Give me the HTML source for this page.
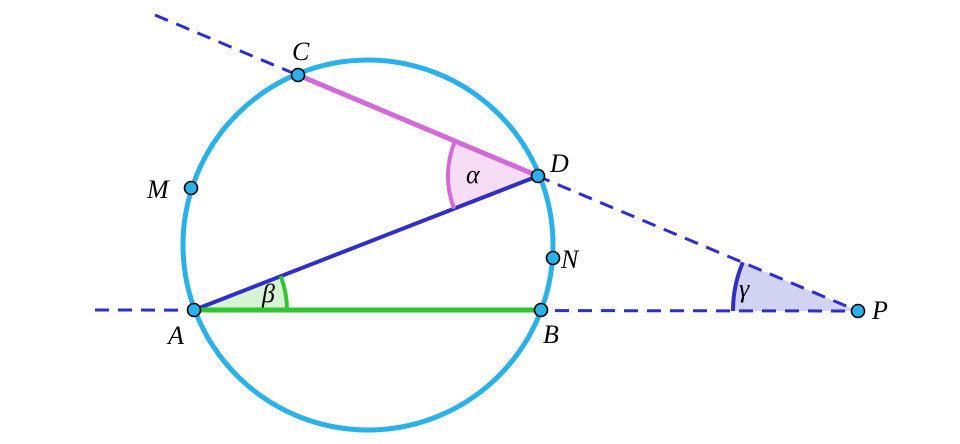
<!DOCTYPE html>
<html><head><meta charset="utf-8"><style>
html,body{margin:0;padding:0;background:#fff;}
svg{display:block}
text{font-family:"Liberation Serif",serif;font-style:italic;font-size:26px;fill:#000}
</style></head><body>
<svg width="960" height="444" viewBox="0 0 960 444" xmlns="http://www.w3.org/2000/svg">
<!-- angle fills -->
<path d="M538,176 L455,141.1 A90,90 0 0 0 454.1,208.7 Z" fill="#f6dcf4" stroke="none"/>
<path d="M194,310 L287,310 A93,93 0 0 0 280.7,276.2 Z" fill="#d6f4d2" stroke="none"/>
<path d="M858,311 L733,311 A125,125 0 0 1 742.8,262.4 Z" fill="#d2d2f2" stroke="none"/>
<!-- dashed lines -->
<line x1="155" y1="15" x2="858" y2="311" stroke="#2f2fc8" stroke-width="3" stroke-dasharray="14,9"/>
<line x1="95" y1="310" x2="858" y2="311" stroke="#2f2fc8" stroke-width="3" stroke-dasharray="14,9"/>
<!-- circle -->
<circle cx="368" cy="245" r="185" fill="none" stroke="#2bb1ea" stroke-width="5"/>
<!-- segments -->
<line x1="298" y1="75" x2="538" y2="176" stroke="#d46ad8" stroke-width="5"/>
<line x1="194" y1="310" x2="538" y2="176" stroke="#2f2fc8" stroke-width="4"/>
<line x1="194" y1="310" x2="541" y2="310" stroke="#33c433" stroke-width="5"/>
<!-- arcs -->
<path d="M455,141.1 A90,90 0 0 0 454.1,208.7" fill="none" stroke="#d46ad8" stroke-width="4"/>
<path d="M287,310 A93,93 0 0 0 280.7,276.2" fill="none" stroke="#33c433" stroke-width="4"/>
<path d="M733,311 A125,125 0 0 1 742.8,262.4" fill="none" stroke="#2f2fc8" stroke-width="4"/>
<!-- points -->
<g fill="#2bb1ea" stroke="#000" stroke-width="1.6">
<circle cx="194" cy="310" r="6.5"/>
<circle cx="541" cy="310" r="6.5"/>
<circle cx="298" cy="75" r="6.5"/>
<circle cx="538" cy="176" r="6.5"/>
<circle cx="191" cy="188" r="6.5"/>
<circle cx="553" cy="258" r="6.5"/>
<circle cx="858" cy="311" r="6.5"/>
</g>
<!-- labels -->
<text x="292" y="60">C</text>
<text x="550" y="172">D</text>
<text x="147" y="198">M</text>
<text x="561" y="268">N</text>
<text x="168" y="344">A</text>
<text x="543" y="343">B</text>
<text x="872" y="319">P</text>
<text x="466" y="183">α</text>
<text x="262" y="302">β</text>
<text x="739" y="297">γ</text>
</svg>
</body></html>
